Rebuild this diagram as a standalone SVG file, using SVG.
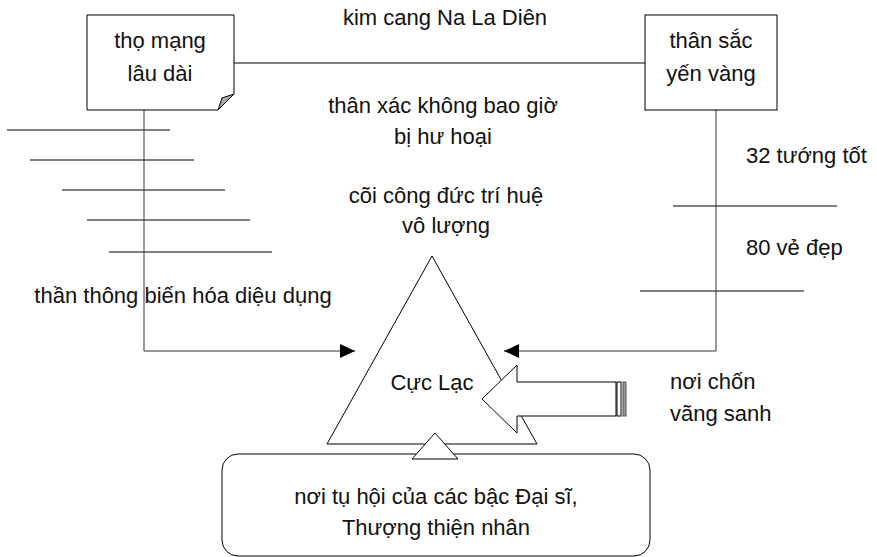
<svg xmlns="http://www.w3.org/2000/svg" width="877" height="557" viewBox="0 0 877 557">
<style>
.s{fill:#fff;stroke:#000;stroke-width:1}
.ln{fill:none;stroke:#000;stroke-width:1}
.cn{fill:none;stroke:#333;stroke-width:1}
text{font-family:"Liberation Sans",Arial,sans-serif;font-size:22px;fill:#111}
.c{text-anchor:middle}
</style>
<defs>
<marker id="arr" viewBox="0 0 15 14" refX="15" refY="7" markerWidth="15" markerHeight="14" markerUnits="userSpaceOnUse" orient="auto">
<path d="M0,0 L15,7 L0,14 z" fill="#000"/>
</marker>
</defs>
<rect width="877" height="557" fill="#fff"/>
<g id="ticks">
<line class="ln" x1="7" y1="130" x2="170" y2="130"/>
<line class="ln" x1="30" y1="160" x2="194" y2="160"/>
<line class="ln" x1="62" y1="190" x2="225" y2="190"/>
<line class="ln" x1="87" y1="220" x2="250" y2="220"/>
<line class="ln" x1="109" y1="252" x2="272" y2="252"/>
<line class="ln" x1="673" y1="206" x2="837" y2="206"/>
<line class="ln" x1="640" y1="291" x2="804" y2="291"/>
</g>
<g id="connectors">
<line class="ln" x1="234" y1="63" x2="645" y2="63"/>
<polyline class="cn" points="144,110 144,351 355,351" marker-end="url(#arr)"/>
<polyline class="cn" points="716,110 716,351 504,351" marker-end="url(#arr)"/>
</g>
<g id="node-tho-mang">
<path class="s" d="M87,15 L234,15 L234,94 L218,110 L87,110 Z"/>
<path d="M234,94 L218,110 L222,98 Z" fill="#aaa" stroke="#000" stroke-width="1"/>
<text class="c" x="160" y="48">thọ mạng</text>
<text class="c" x="160" y="81">lâu dài</text>
</g>
<g id="node-than-sac">
<rect class="s" x="645" y="15" width="132" height="95"/>
<text class="c" x="711" y="48">thân sắc</text>
<text class="c" x="711" y="81">yến vàng</text>
</g>
<g id="labels">
<text class="c" x="445" y="25">kim cang Na La Diên</text>
<text class="c" x="443" y="113">thân xác không bao giờ</text>
<text class="c" x="443" y="144">bị hư hoại</text>
<text class="c" x="446" y="203">cõi công đức trí huệ</text>
<text class="c" x="446" y="233">vô lượng</text>
<text x="746" y="163">32 tướng tốt</text>
<text x="746" y="255">80 vẻ đẹp</text>
<text class="c" x="183" y="303">thần thông biến hóa diệu dụng</text>
<text x="670" y="389">nơi chốn</text>
<text x="670" y="421">vãng sanh</text>
</g>
<g id="node-cuc-lac">
<path class="s" d="M432,256 L537,444 L327,444 Z"/>
<text class="c" x="432" y="390">Cực Lạc</text>
</g>
<g id="node-vang-sanh-arrow">
<path class="s" d="M616,382 L517,382 L517,365 L482,399 L517,433 L517,416 L616,416 Z"/>
<rect class="s" x="617" y="382" width="4" height="34"/>
<rect x="623" y="382" width="3" height="34" fill="#999" stroke="#555" stroke-width="1"/>
</g>
<g id="node-dai-si">
<rect class="s" x="222" y="454" width="428" height="102" rx="16" ry="16"/>
<text class="c" x="436" y="504">nơi tụ hội của các bậc Đại sĩ,</text>
<text class="c" x="436" y="535">Thượng thiện nhân</text>
</g>
<g id="node-small-triangle">
<path class="s" d="M435,433 L458,459 L412,459 Z"/>
</g>
</svg>
